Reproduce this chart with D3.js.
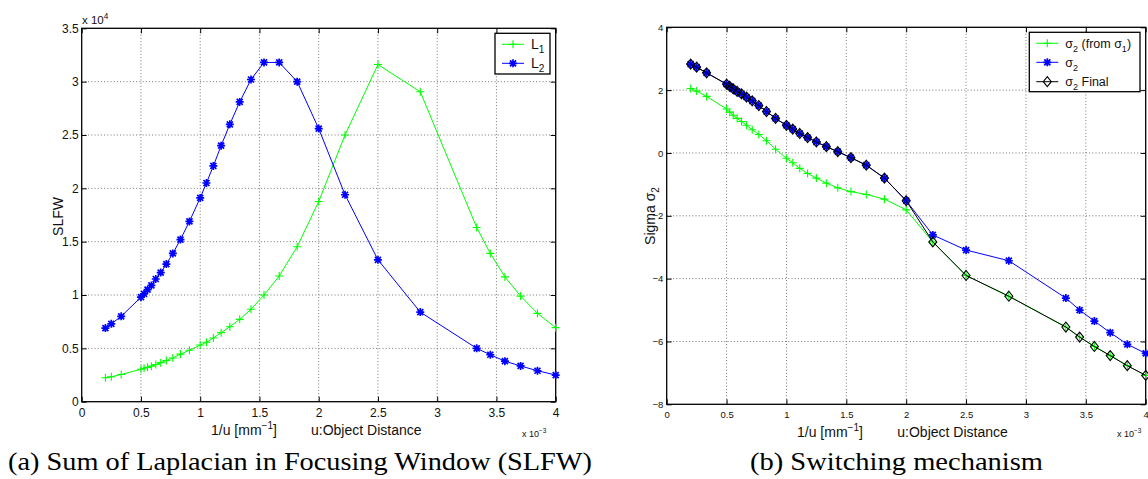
<!DOCTYPE html>
<html>
<head>
<meta charset="utf-8">
<script src="https://cdn.jsdelivr.net/npm/d3@7"></script>
<style>
  body { margin: 0; background: #fff; }
</style>
</head>
<body>
<script>
// 1/u values (x 10^-3 mm^-1), shared by all series
var invU = [0.2, 0.25, 0.3333, 0.5, 0.5263, 0.5556, 0.5882, 0.625, 0.6667, 0.7143, 0.7692, 0.8333, 0.9091,
            1.0, 1.0526, 1.1111, 1.1765, 1.25, 1.3333, 1.4286, 1.5385, 1.6667, 1.8182, 2.0, 2.2222, 2.5,
            2.8571, 3.3333, 3.4483, 3.5714, 3.7037, 3.8462, 4.0];

// panel (a): SLFW, x 10^4
var slfwL1 = [0.225, 0.234, 0.255, 0.304, 0.313, 0.322, 0.333, 0.348, 0.366, 0.386, 0.41, 0.446, 0.482,
              0.531, 0.557, 0.597, 0.647, 0.703, 0.772, 0.866, 1.0, 1.178, 1.453, 1.876, 2.50, 3.16,
              2.905, 1.633, 1.39, 1.17, 0.99, 0.828, 0.694];
var slfwL2 = [0.69, 0.73, 0.80, 0.98, 1.01, 1.05, 1.09, 1.15, 1.21, 1.29, 1.39, 1.52, 1.69,
              1.91, 2.05, 2.21, 2.40, 2.60, 2.81, 3.02, 3.18, 3.18, 3.00, 2.56, 1.94, 1.33,
              0.84, 0.50, 0.44, 0.38, 0.335, 0.29, 0.25];

// panel (b): sigma 2
var sigma2FromSigma1 = [2.05, 1.97, 1.80, 1.40, 1.30, 1.20, 1.10, 1.00, 0.88, 0.74, 0.59, 0.39, 0.12,
                        -0.17, -0.31, -0.49, -0.65, -0.80, -0.96, -1.11, -1.23, -1.32, -1.47, -1.81, -2.83, -3.90,
                        -4.56, -5.54, -5.86, -6.16, -6.45, -6.77, -7.08];
var sigma2 = [2.83, 2.73, 2.55, 2.19, 2.12, 2.04, 1.96, 1.88, 1.78, 1.66, 1.51, 1.32, 1.10,
              0.88, 0.76, 0.62, 0.49, 0.35, 0.20, 0.04, -0.15, -0.39, -0.80, -1.52, -2.61, -3.09,
              -3.43, -4.62, -5.00, -5.35, -5.72, -6.09, -6.38];
var sigma2Final = [2.83, 2.73, 2.55, 2.19, 2.12, 2.04, 1.96, 1.88, 1.78, 1.66, 1.51, 1.32, 1.10,
                   0.88, 0.76, 0.62, 0.49, 0.35, 0.20, 0.04, -0.15, -0.39, -0.80, -1.52, -2.83, -3.90,
                   -4.56, -5.54, -5.86, -6.16, -6.45, -6.77, -7.08];

var xTicks = [0, 0.5, 1, 1.5, 2, 2.5, 3, 3.5, 4];
var yTicksA = [0, 0.5, 1, 1.5, 2, 2.5, 3, 3.5];
var yTicksB = [-8, -6, -4, -2, 0, 2, 4];

var SANS = "'Liberation Sans', Arial, Helvetica, sans-serif";
var SERIF = "'Liberation Serif', 'Times New Roman', serif";

var svg = d3.select("body").append("svg")
  .attr("width", 1148)
  .attr("height", 479)
  .style("font-family", SANS);

var markers = {
  plus: "M-4,0H4M0,-4V4",
  star: "M-4,0H4M0,-4V4M-3,-3L3,3M-3,3L3,-3",
  diamond: "M0,-5L4,0L0,5L-4,0Z"
};

function fmt(d) { return String(d).replace("-", "\u2212"); }

function panel(o) {
  var x = d3.scaleLinear().domain([0, 4]).range([o.x0, o.x1]);
  var y = d3.scaleLinear().domain(o.yDomain).range([o.y1, o.y0]);
  var g = svg.append("g");

  // dotted grid
  g.selectAll(".vg").data(xTicks.slice(1, -1)).enter().append("line")
    .attr("x1", x).attr("x2", x).attr("y1", o.y0).attr("y2", o.y1)
    .attr("stroke", "#666").attr("stroke-width", 0.9).attr("stroke-dasharray", "1,2.2");
  g.selectAll(".hg").data(o.yTicks.slice(1, -1)).enter().append("line")
    .attr("y1", y).attr("y2", y).attr("x1", o.x0).attr("x2", o.x1)
    .attr("stroke", "#666").attr("stroke-width", 0.9).attr("stroke-dasharray", "1,2.2");

  // axes, ticks pointing inward
  var ab = g.append("g").attr("transform", "translate(0," + o.y1 + ")")
    .call(d3.axisBottom(x).tickValues(xTicks).tickSizeInner(-5).tickSizeOuter(0).tickFormat(fmt));
  ab.selectAll("text").attr("y", o.xLabOff).attr("dy", null);
  var al = g.append("g").attr("transform", "translate(" + o.x0 + ",0)")
    .call(d3.axisLeft(y).tickValues(o.yTicks).tickSizeInner(-5).tickSizeOuter(0).tickPadding(o.yPad).tickFormat(fmt));
  var at = g.append("g").attr("transform", "translate(0," + o.y0 + ")")
    .call(d3.axisTop(x).tickValues(xTicks).tickSizeInner(-5).tickSizeOuter(0).tickFormat(""));
  var ar = g.append("g").attr("transform", "translate(" + o.x1 + ",0)")
    .call(d3.axisRight(y).tickValues(o.yTicks).tickSizeInner(-5).tickSizeOuter(0).tickFormat(""));
  [ab, al, at, ar].forEach(function(a) {
    a.select(".domain").remove();
    a.attr("font-family", SANS).attr("font-size", o.tickFont);
    a.selectAll("line").attr("stroke", "#000");
    a.selectAll("text").attr("fill", "#111");
  });

  g.append("rect")
    .attr("x", o.x0).attr("y", o.y0)
    .attr("width", o.x1 - o.x0).attr("height", o.y1 - o.y0)
    .attr("fill", "none").attr("stroke", "#000").attr("stroke-width", 1.3);

  // series
  o.series.forEach(function(s) {
    var pts = invU.map(function(v, i) { return [v, s.values[i]]; });
    g.append("path")
      .attr("d", d3.line().x(function(d) { return x(d[0]); }).y(function(d) { return y(d[1]); })(pts))
      .attr("fill", "none").attr("stroke", s.color).attr("stroke-width", 1);
    g.selectAll(null).data(pts).enter().append("path")
      .attr("transform", function(d) { return "translate(" + x(d[0]) + "," + y(d[1]) + ")"; })
      .attr("d", markers[s.marker])
      .attr("fill", "none").attr("stroke", s.color).attr("stroke-width", s.marker == "star" ? 1.7 : 1.1);
  });

  // legend
  var L = o.legend;
  g.append("rect")
    .attr("x", L.x).attr("y", L.y).attr("width", L.w).attr("height", L.h)
    .attr("fill", "#fff").attr("stroke", "#000").attr("stroke-width", 1.3);
  o.series.forEach(function(s, i) {
    var ly = L.rows[i];
    g.append("line").attr("x1", L.x + 7).attr("x2", L.x + 29).attr("y1", ly).attr("y2", ly)
      .attr("stroke", s.color).attr("stroke-width", 1);
    g.append("path").attr("transform", "translate(" + (L.x + 18) + "," + ly + ")")
      .attr("d", markers[s.marker]).attr("fill", "none").attr("stroke", s.color)
      .attr("stroke-width", s.marker == "star" ? 1.7 : 1.1);
    var t = g.append("text").attr("x", L.x + L.tx).attr("y", ly + 4.5)
      .attr("font-size", L.font).attr("fill", "#111");
    s.label.forEach(function(p) {
      var sp = t.append("tspan").text(p[0]);
      if (p[1] == "sub") sp.attr("font-size", L.font * 0.72).attr("dy", 4);
      if (p[1] == "back") sp.attr("dy", -4);
    });
  });
  return { x: x, y: y };
}

panel({
  x0: 81.7, x1: 555.7, y0: 28.3, y1: 401.7,
  yDomain: [0, 3.5], yTicks: yTicksA, tickFont: 12, xLabOff: 15, yPad: 3,
  series: [
    { values: slfwL1, color: "#00ff00", marker: "plus", label: [["L"], ["1", "sub"]] },
    { values: slfwL2, color: "#0000ff", marker: "star", label: [["L"], ["2", "sub"]] }
  ],
  legend: { x: 495, y: 33.3, w: 55, h: 40.7, rows: [44.3, 63.3], tx: 36, font: 14 }
});

panel({
  x0: 666.7, x1: 1145.7, y0: 27.3, y1: 404.3,
  yDomain: [-8, 4], yTicks: yTicksB, tickFont: 9.5, xLabOff: 13.3, yPad: 3.4,
  series: [
    { values: sigma2FromSigma1, color: "#00ff00", marker: "plus",
      label: [["\u03c3"], ["2", "sub"], [" (from \u03c3", "back"], ["1", "sub"], [")", "back"]] },
    { values: sigma2, color: "#0000ff", marker: "star", label: [["\u03c3"], ["2", "sub"]] },
    { values: sigma2Final, color: "#000", marker: "diamond",
      label: [["\u03c3"], ["2", "sub"], [" Final", "back"]] }
  ],
  legend: { x: 1029.3, y: 32.3, w: 110.7, h: 59.4, rows: [43.3, 62.3, 81.7], tx: 36, font: 12.5 }
});

// axis labels
function xLabel(x, y, x2) {
  var t = svg.append("text").attr("x", x).attr("y", y).attr("font-size", 14).attr("fill", "#111");
  t.append("tspan").text("1/u [mm");
  t.append("tspan").text("\u22121").attr("font-size", 10).attr("dy", -6);
  t.append("tspan").text("]").attr("dy", 6);
  svg.append("text").attr("x", x2).attr("y", y).attr("font-size", 14).attr("fill", "#111")
    .text("u:Object Distance");
}
xLabel(211, 435, 311);
xLabel(797, 436.5, 897.3);

function expLabel(x, y, size, exp) {
  var t = svg.append("text").attr("x", x).attr("y", y).attr("font-size", size).attr("fill", "#111");
  t.append("tspan").text("x 10");
  t.append("tspan").text(exp).attr("font-size", size * 0.72).attr("dy", -size * 0.45);
}
expLabel(82, 24, 11.5, "4");
expLabel(522, 437, 9, "\u22123");
expLabel(1117, 437, 9, "\u22123");

svg.append("text")
  .attr("transform", "translate(63,216.5) rotate(-90)")
  .attr("text-anchor", "middle").attr("font-size", 14).attr("fill", "#111")
  .text("SLFW");
var sy = svg.append("text")
  .attr("transform", "translate(655,216) rotate(-90)")
  .attr("text-anchor", "middle").attr("font-size", 14).attr("fill", "#111");
sy.append("tspan").text("Sigma \u03c3");
sy.append("tspan").text("2").attr("font-size", 10).attr("dy", 4);

// captions
svg.append("text").attr("x", 8).attr("y", 470).attr("font-family", SERIF).attr("font-size", 25)
  .attr("textLength", 584).attr("lengthAdjust", "spacingAndGlyphs").attr("fill", "#000")
  .text("(a) Sum of Laplacian in Focusing Window (SLFW)");
svg.append("text").attr("x", 750).attr("y", 470).attr("font-family", SERIF).attr("font-size", 25)
  .attr("textLength", 293).attr("lengthAdjust", "spacingAndGlyphs").attr("fill", "#000")
  .text("(b) Switching mechanism");
</script>
</body>
</html>
